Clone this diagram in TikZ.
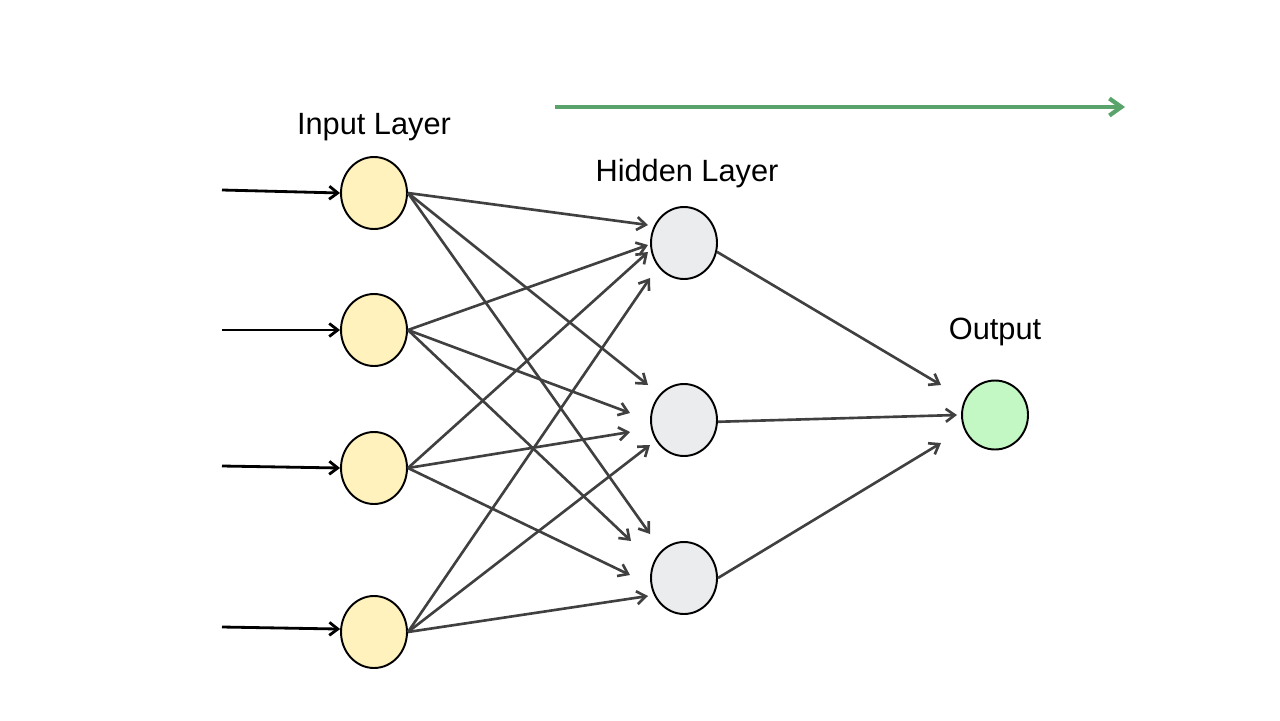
\documentclass[tikz,border=0pt]{standalone}
\usepackage{fontspec}
\setmainfont{Liberation Sans}
\usetikzlibrary{arrows.meta,shapes.geometric}
\definecolor{inyellow}{HTML}{FFF2BD}
\definecolor{hidgray}{HTML}{EBECEE}
\definecolor{outgreen}{HTML}{C3F7C3}
\definecolor{edgegray}{HTML}{404040}
\definecolor{flowgreen}{HTML}{5AA36A}
\tikzset{
  neuron/.style={ellipse,draw=black,line width=1.1pt,minimum width=1.32cm,minimum height=1.44cm,inner sep=0pt},
  inneuron/.style={neuron,fill=inyellow},
  hidneuron/.style={neuron,fill=hidgray},
  outneuron/.style={neuron,fill=outgreen,minimum height=1.38cm},
  feed/.style={draw=black,line width=1.6pt,-{Straight Barb[length=1.7mm,width=2.6mm]}},
  conn/.style={draw=edgegray,line width=1.5pt,-{Straight Barb[length=1.8mm,width=2.6mm]}},
  flow/.style={draw=flowgreen,line width=2.4pt,-{Straight Barb[length=2.4mm,width=3.4mm]}},
  layerlabel/.style={font=\fontsize{17.5}{20}\selectfont,inner sep=0pt}
}
\begin{document}
\begin{tikzpicture}[x=0.02cm,y=-0.02cm]
\useasboundingbox (0,0) rectangle (1280,720);
% nodes
\node[inneuron] (i1) at (374,193) {};
\node[inneuron] (i2) at (374,330) {};
\node[inneuron] (i3) at (374,468) {};
\node[inneuron] (i4) at (374,632) {};
\node[hidneuron] (h1) at (684,243) {};
\node[hidneuron] (h2) at (684,420) {};
\node[hidneuron] (h3) at (684,578) {};
\node[outneuron] (o) at (995,415) {};
% labels
\node[layerlabel] (tin) at (374,127) {Input Layer};
\node[layerlabel] (thid) at (687,174) {Hidden Layer};
\node[layerlabel] (tout) at (995,332) {Output};
% input feeds
\coordinate (s1) at (222,190);
\coordinate (s2) at (222,330);
\coordinate (s3) at (222,466);
\coordinate (s4) at (222,627);
\draw[feed] (s1) -- (i1.west);
\draw[feed] (s2) -- (i2.west);
\draw[feed] (s3) -- (i3.west);
\draw[feed] (s4) -- (i4.175);
% arrow end points near hidden neurons
\coordinate (e11) at (648,225);
\coordinate (e12) at (648,385);
\coordinate (e13) at (650,534);
\coordinate (e21) at (648,245);
\coordinate (e22) at (630,413);
\coordinate (e23) at (631,541);
\coordinate (e31) at (648,252);
\coordinate (e32) at (630,432);
\coordinate (e33) at (630,575);
\coordinate (e41) at (650,278);
\coordinate (e42) at (650,445);
\coordinate (e43) at (648,596);
\foreach \i in {1,2,3,4}{
  \foreach \j in {1,2,3}{
    \draw[conn] (i\i.east) -- (e\i\j);
  }
}
% hidden to output
\coordinate (f1) at (941,385);
\coordinate (f2) at (957,415);
\coordinate (f3) at (941,443);
\draw[conn] (h1.-15) -- (f1);
\draw[conn] (h2.-3) -- (f2);
\draw[conn] (h3.0) -- (f3);
% flow arrow
\coordinate (ga) at (555,107);
\coordinate (gb) at (1125,107);
\draw[flow] (ga) -- (gb);
\end{tikzpicture}
\end{document}
